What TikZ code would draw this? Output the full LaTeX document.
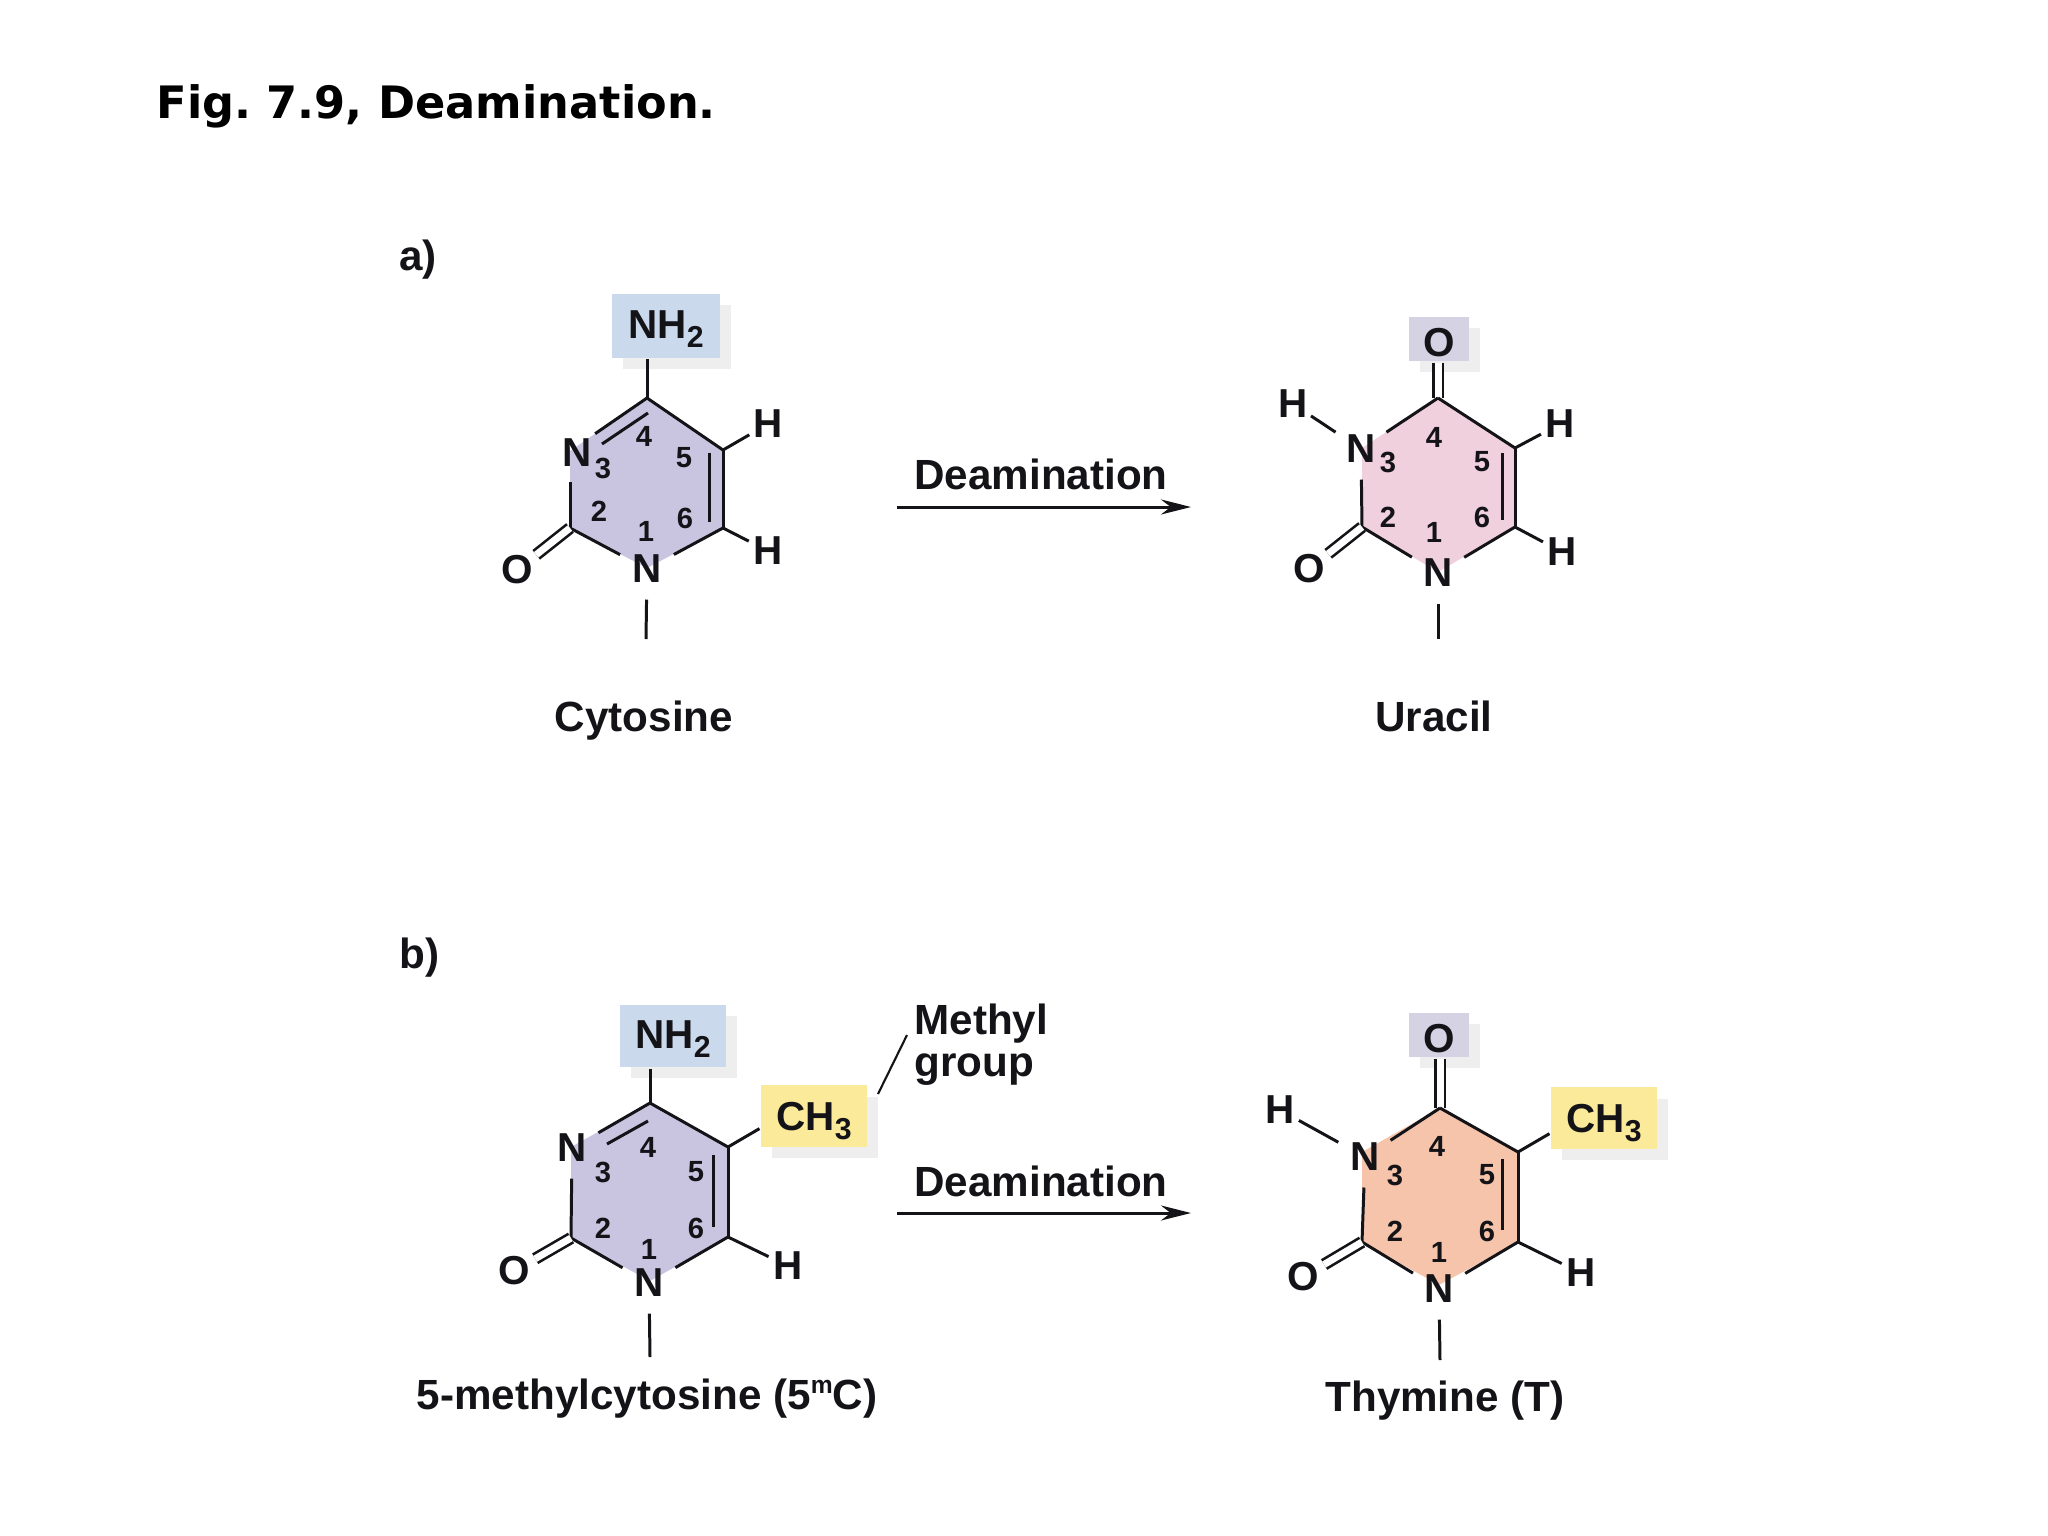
\documentclass[tikz,border=0pt]{standalone}
\usepackage{fontspec}
\setmainfont{Liberation Sans}
\newfontfamily\titlefont{DejaVu Sans}
\usetikzlibrary{arrows.meta,shadows}
\definecolor{inkcol}{HTML}{141418}
\definecolor{cytcol}{HTML}{C9C5E0}
\definecolor{uracol}{HTML}{F0D0DC}
\definecolor{thycol}{HTML}{F5C4AA}
\definecolor{aminecol}{HTML}{CBD9EC}
\definecolor{oxocol}{HTML}{D5D3E3}
\definecolor{methylcol}{HTML}{FBEA9A}
\definecolor{shadecol}{HTML}{EEEEEE}
\newcommand{\lowsub}[1]{\raisebox{-.42ex}{\fontsize{8.6}{9}\selectfont #1}}
\begin{document}
\begin{tikzpicture}[x=.01cm, y=-.01cm, line width=.85pt, draw=inkcol, text=inkcol,
	main/.style = {circle, inner sep=0pt, minimum size=.58cm, font=\bfseries\fontsize{11.5}{12}\selectfont},
	hyd/.style = {main, minimum size=.38cm},
	oxy/.style = {main, minimum size=.46cm},
	num/.style = {inner sep=0pt, font=\bfseries\fontsize{8.3}{9}\selectfont},
	caption/.style = {inner sep=0pt, font=\bfseries\fontsize{12}{12}\selectfont},
	tag/.style = {rectangle, inner sep=0pt, font=\bfseries\fontsize{11.5}{12}\selectfont, drop shadow={shadow xshift=.11cm, shadow yshift=-.11cm, fill=shadecol, opacity=1}},
	amine/.style = {tag, fill=aminecol, minimum width=1.07cm, minimum height=.63cm, text height=9pt, text depth=1.7pt},
	oxo/.style = {tag, fill=oxocol, minimum width=.6cm, minimum height=.44cm, text height=10pt, text depth=0pt},
	methyl/.style = {tag, fill=methylcol, minimum width=1.06cm, minimum height=.61cm, text height=10pt, text depth=1.6pt},
	dbl/.style = {double=white, double distance=.07cm, line width=.75pt},
	rxn/.style = {-{Stealth[length=.3cm, width=.15cm]}, line width=.85pt}]

	\useasboundingbox (0,0) rectangle (2048,1536);

	\node[anchor=west, inner sep=0pt, text=black, font=\titlefont\bfseries\fontsize{12.7}{15}\selectfont] (title) at (155,106) {\frenchspacing Fig. 7.9, Deamination.};
	\node[caption, anchor=west] (parta) at (398,260) {a)};
	\node[caption, anchor=west] (partb) at (398,958) {b)};

	\coordinate (CC4) at (647,398);
	\coordinate (CC5) at (723,450);
	\coordinate (CC6) at (723,528);
	\coordinate (CC2) at (570,528);
	\coordinate (CR3) at (570,451);
	\coordinate (CR1) at (647,568);
	\fill[cytcol] (CC4) -- (CC5) -- (CC6) -- (CR1) -- (CC2) -- (CR3) -- cycle;
	\node[main] (CG3) at (CR3) {};
	\node[main] (CN3) at (577,453) {N};
	\node[main] (CN1) at (647,569) {N};
	\node[amine] (CNH) at (666,326) {NH\lowsub{2}};
	\node[hyd] (CH5) at (768,424) {H};
	\node[hyd] (CH6) at (768,551) {H};
	\node[oxy] (CO2) at (517,570) {O};
	\coordinate (CT1) at (646,639);
	\coordinate (CI5) at (709,453);
	\coordinate (CI6) at (709,522);
	\coordinate (CI4) at (648,413);
	\coordinate (CI3) at (602,444);
	\draw (CNH.south -| CC4) -- (CC4);
	\draw (CC4) -- (CC5);
	\draw (CC5) -- (CC6);
	\draw (CC6) -- (CN1);
	\draw (CN1) -- (CC2);
	\draw (CC2) -- (CG3);
	\draw (CG3) -- (CC4);
	\draw (CI5) -- (CI6);
	\draw (CI4) -- (CI3);
	\draw (CC5) -- (CH5);
	\draw (CC6) -- (CH6);
	\draw[dbl] (CC2) -- (CO2);
	\draw (CN1) -- (CT1);
	\node[num] (C4n) at (644,436) {4};
	\node[num] (C5n) at (684,458) {5};
	\node[num] (C3n) at (603,468) {3};
	\node[num] (C2n) at (599,511) {2};
	\node[num] (C6n) at (685,518) {6};
	\node[num] (C1n) at (646,531) {1};
	\node[caption] (cytosine) at (644,721) {Cytosine};

	\coordinate (UC4) at (1438,398);
	\coordinate (UC5) at (1515,448);
	\coordinate (UC6) at (1515,527);
	\coordinate (UC2) at (1362,527);
	\fill[uracol] (UC4) -- (UC5) -- (UC6) -- (1438,572) -- (UC2) -- (1362,448) -- cycle;
	\node[main] (UN3) at (1361,449) {N};
	\node[main] (UN1) at (1438,573) {N};
	\node[oxo] (UO4) at (1439,339) {O};
	\node[hyd] (UH3) at (1293,404) {H};
	\node[hyd] (UH5) at (1560,424) {H};
	\node[hyd] (UH6) at (1562,552) {H};
	\node[oxy] (UO2) at (1309,569) {O};
	\coordinate (UT1) at (1438,639);
	\coordinate (UI5) at (1502,453);
	\coordinate (UI6) at (1502,520);
	\draw[dbl] (UO4.south -| UC4) -- (UC4);
	\draw (UC4) -- (UC5);
	\draw (UC5) -- (UC6);
	\draw (UC6) -- (UN1);
	\draw (UN1) -- (UC2);
	\draw (UC2) -- (UN3);
	\draw (UN3) -- (UC4);
	\draw (UI5) -- (UI6);
	\draw (UN3) -- (UH3);
	\draw (UC5) -- (UH5);
	\draw (UC6) -- (UH6);
	\draw[dbl] (UC2) -- (UO2);
	\draw (UN1) -- (UT1);
	\node[num] (U4n) at (1434,437) {4};
	\node[num] (U3n) at (1388,462) {3};
	\node[num] (U5n) at (1482,462) {5};
	\node[num] (U2n) at (1388,517) {2};
	\node[num] (U6n) at (1482,517) {6};
	\node[num] (U1n) at (1434,532) {1};
	\node[caption] (uracil) at (1434,716) {Uracil};

	\node[caption] (labela) at (1041,474) {Deamination};
	\coordinate (arra) at (897,507);
	\coordinate (arrb) at (1191,507);
	\draw[rxn] (arra) -- (arrb);

	\coordinate (MC4) at (650,1103);
	\coordinate (MC5) at (728,1147);
	\coordinate (MC6) at (728,1237);
	\coordinate (MC2) at (571,1238);
	\fill[cytcol] (MC4) -- (MC5) -- (MC6) -- (650,1281) -- (MC2) -- (571,1147) -- cycle;
	\node[main] (MN3) at (572,1148) {N};
	\node[main] (MN1) at (649,1283) {N};
	\node[amine, minimum width=1.05cm, minimum height=.62cm] (MNH) at (673,1036) {NH\lowsub{2}};
	\node[methyl] (MCH) at (814,1116) {CH\lowsub{3}};
	\node[hyd] (MH6) at (788,1266) {H};
	\node[oxy] (MO2) at (514,1271) {O};
	\coordinate (MT1) at (650,1357);
	\coordinate (MI5) at (713,1155);
	\coordinate (MI6) at (713,1227);
	\coordinate (MI4) at (648,1121);
	\coordinate (MI3) at (607,1144);
	\draw (MNH.south -| MC4) -- (MC4);
	\draw (MC4) -- (MC5);
	\draw (MC5) -- (MC6);
	\draw (MC6) -- (MN1);
	\draw (MN1) -- (MC2);
	\draw (MC2) -- (MN3);
	\draw (MN3) -- (MC4);
	\draw (MI5) -- (MI6);
	\draw (MI4) -- (MI3);
	\draw (MC5) -- (MCH.193);
	\draw (MC6) -- (MH6);
	\draw[dbl] (MC2) -- (MO2);
	\draw (MN1) -- (MT1);
	\node[num] (M4n) at (648,1147) {4};
	\node[num] (M3n) at (603,1172) {3};
	\node[num] (M5n) at (696,1172) {5};
	\node[num] (M2n) at (603,1228) {2};
	\node[num] (M6n) at (696,1228) {6};
	\node[num] (M1n) at (649,1249) {1};
	\node[caption] (mecyt) at (647,1399) {5-methylcytosine (5\raisebox{.75ex}{\fontsize{7}{8}\selectfont m}C)};

	\node[caption, anchor=west, align=left] (group) at (913,1045) {Methyl\\group};
	\coordinate (MG1) at (907,1035);
	\coordinate (MG2) at (878,1094);
	\draw[line width=.6pt] (MG1) -- (MG2);

	\node[caption] (labelb) at (1041,1181) {Deamination};
	\coordinate (arrc) at (897,1213);
	\coordinate (arrd) at (1191,1213);
	\draw[rxn] (arrc) -- (arrd);

	\coordinate (TC4) at (1440,1108);
	\coordinate (TC5) at (1518,1152);
	\coordinate (TC6) at (1518,1242);
	\coordinate (TC2) at (1362,1242);
	\fill[thycol] (TC4) -- (TC5) -- (TC6) -- (1439,1285) -- (TC2) -- (1362,1152) -- cycle;
	\node[main] (TN3) at (1365,1157) {N};
	\node[main] (TN1) at (1439,1289) {N};
	\node[oxo] (TO4) at (1439,1035) {O};
	\node[methyl] (TCH) at (1604,1118) {CH\lowsub{3}};
	\node[hyd] (TH3) at (1280,1110) {H};
	\node[hyd] (TH6) at (1581,1273) {H};
	\node[oxy] (TO2) at (1303,1277) {O};
	\coordinate (TT1) at (1440,1360);
	\coordinate (TI5) at (1502,1159);
	\coordinate (TI6) at (1502,1230);
	\draw[dbl] (TO4.south -| TC4) -- (TC4);
	\draw (TC4) -- (TC5);
	\draw (TC5) -- (TC6);
	\draw (TC6) -- (TN1);
	\draw (TN1) -- (TC2);
	\draw (TC2) -- (TN3);
	\draw (TN3) -- (TC4);
	\draw (TI5) -- (TI6);
	\draw (TN3) -- (TH3);
	\draw (TC5) -- (TCH.196);
	\draw (TC6) -- (TH6);
	\draw[dbl] (TC2) -- (TO2);
	\draw (TN1) -- (TT1);
	\node[num] (T4n) at (1437,1146) {4};
	\node[num] (T3n) at (1395,1175) {3};
	\node[num] (T5n) at (1487,1175) {5};
	\node[num] (T2n) at (1395,1231) {2};
	\node[num] (T6n) at (1487,1231) {6};
	\node[num] (T1n) at (1439,1252) {1};
	\node[caption] (thymine) at (1445,1401) {Thymine (T)};
\end{tikzpicture}
\end{document}
